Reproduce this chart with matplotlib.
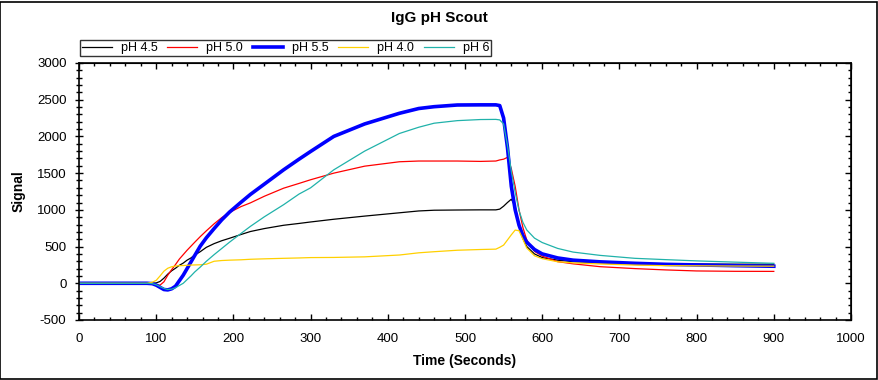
import matplotlib
matplotlib.use("Agg")
import matplotlib.pyplot as plt
from matplotlib.patches import Rectangle
from matplotlib.ticker import MultipleLocator

plt.rcParams["font.family"] = ["Liberation Sans", "DejaVu Sans"]
plt.rcParams["axes.unicode_minus"] = False

time_s = [0, 88, 95, 100, 105, 110, 115, 120, 125, 130, 135, 140, 145, 150, 157,
          165, 175, 185, 195, 210, 222, 240, 265, 285, 300, 330, 370, 415, 440,
          460, 490, 520, 540, 545, 550, 555, 560, 565, 570, 575, 580, 590, 600,
          620, 640, 675, 720, 760, 800, 850, 900]

ph_45 = [0, 0, 0, 5, 25, 70, 125, 170, 205, 245, 275, 315, 345, 385, 430,
         490, 540, 580, 613, 665, 705, 745, 790, 815, 835, 872, 915, 960, 985,
         995, 998, 1000, 1000, 1010, 1050, 1100, 1145, 1050, 790, 610, 500, 400, 350,
         315, 295, 280, 272, 265, 262, 260, 260]

ph_50 = [0, 0, -5, -20, -25, 20, 110, 185, 255, 330, 390, 450, 505, 560, 635,
         715, 810, 895, 965, 1045, 1095, 1185, 1295, 1360, 1410, 1500, 1595, 1655, 1665,
         1665, 1665, 1660, 1665, 1680, 1690, 1715, 1560, 1320, 1000, 760, 590, 435, 370,
         295, 265, 226, 200, 182, 168, 163, 162]

ph_55 = [0, 0, -5, -25, -55, -85, -90, -75, -40, 35, 110, 200, 290, 380, 505,
         620, 745, 865, 970, 1105, 1210, 1350, 1545, 1690, 1795, 2000, 2170, 2315, 2380,
         2405, 2428, 2430, 2430, 2420, 2250, 1850, 1320, 1000, 790, 650, 560, 460, 400,
         345, 315, 292, 272, 258, 250, 240, 232]

ph_40 = [0, 0, 15, 40, 100, 165, 205, 225, 235, 240, 242, 245, 248, 250, 252,
         260, 300, 310, 315, 320, 327, 333, 340, 345, 350, 352, 360, 385, 415,
         430, 450, 460, 465, 490, 520, 590, 660, 725, 715, 600, 480, 375, 335,
         293, 278, 263, 248, 240, 238, 235, 233]

ph_6 = [0, 0, -5, -20, -45, -70, -85, -80, -60, -30, 0, 50, 100, 155, 220,
        300, 390, 475, 560, 680, 775, 905, 1070, 1215, 1300, 1545, 1800, 2040, 2125,
        2180, 2215, 2230, 2232, 2225, 2170, 1880, 1525, 1240, 990, 830, 726, 615, 555,
        475, 425, 380, 340, 322, 305, 288, 272]

series = [
    ("pH 4.5", ph_45, "black", 0.9),
    ("pH 5.0", ph_50, "#ff0000", 0.9),
    ("pH 5.5", ph_55, "#0000ff", 2.6),
    ("pH 4.0", ph_40, "#ffd000", 0.9),
    ("pH 6", ph_6, "#20b2aa", 0.9),
]

fig = plt.figure(figsize=(8.79, 3.80), dpi=100)
ax = fig.add_axes([79 / 879, 1 - 320 / 380, (851 - 79) / 879, (320 - 63) / 380])

handles = []
for label, vals, color, lw in series:
    h, = ax.plot(time_s, vals, color=color, lw=lw, label=label)
    handles.append(h)

ax.set_xlim(0, 1000)
ax.set_ylim(-500, 3000)
ax.xaxis.set_major_locator(MultipleLocator(100))
ax.xaxis.set_minor_locator(MultipleLocator(20))
ax.yaxis.set_major_locator(MultipleLocator(500))
ax.yaxis.set_minor_locator(MultipleLocator(100))

ax.tick_params(axis="y", which="major", direction="inout", length=6, width=1,
               labelsize=9.5, pad=6)
ax.tick_params(axis="y", which="minor", direction="inout", length=4.5, width=1)
ax.tick_params(axis="x", which="major", direction="in", length=4, width=1,
               labelsize=9.5, pad=9)
ax.tick_params(axis="x", which="minor", direction="in", length=2.2, width=1)

for side in ["left", "bottom", "top", "right"]:
    ax.spines[side].set_linewidth(1.2)

# top and right ticks point inward only
top = ax.secondary_xaxis("top")
top.xaxis.set_major_locator(MultipleLocator(100))
top.xaxis.set_minor_locator(MultipleLocator(20))
top.tick_params(which="major", direction="in", length=4, width=1, labeltop=False)
top.tick_params(which="minor", direction="in", length=2.2, width=1)
right = ax.secondary_yaxis("right")
right.yaxis.set_major_locator(MultipleLocator(500))
right.yaxis.set_minor_locator(MultipleLocator(100))
right.tick_params(which="major", direction="in", length=4, width=1, labelright=False)
right.tick_params(which="minor", direction="in", length=2.2, width=1)

ax.set_xlabel("Time (Seconds)", fontsize=10, fontweight="bold", labelpad=7)
ax.set_ylabel("Signal", fontsize=10, fontweight="bold", labelpad=8)
fig.text(0.5, 1 - 18 / 380, "IgG pH Scout", ha="center", va="center",
         fontsize=11, fontweight="bold")

leg = fig.legend(handles=handles, loc="upper left",
                 bbox_to_anchor=(80 / 879, 1 - 40 / 380), ncol=5, fontsize=9,
                 frameon=True, fancybox=False, edgecolor="black",
                 borderpad=0.15, handlelength=2.4, handletextpad=0.7,
                 columnspacing=0.8, borderaxespad=0)
leg.get_frame().set_linewidth(1.0)

fig.patches.append(Rectangle((0.5 / 879, 1.5 / 380), 877 / 879, 377 / 380,
                             transform=fig.transFigure, fill=False,
                             edgecolor="black", lw=1.2))

fig.savefig("out.png", dpi=100)
